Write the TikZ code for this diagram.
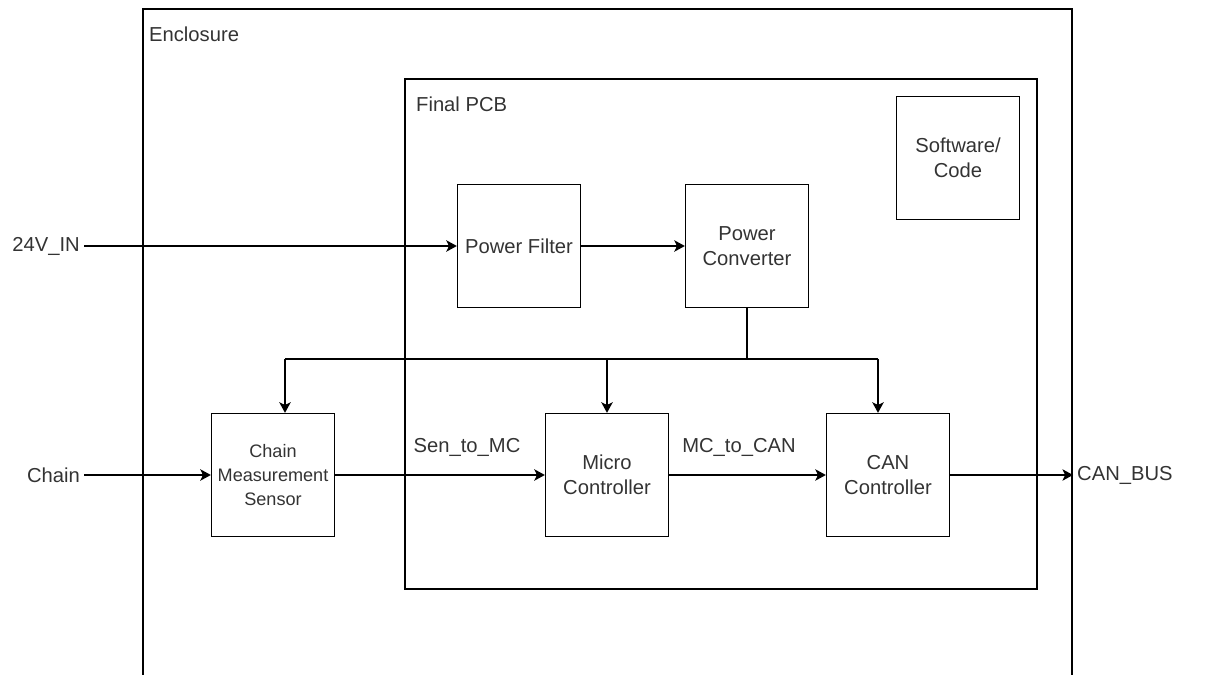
\documentclass[tikz,border=0pt]{standalone}
\usepackage{fontspec}
\setmainfont{Liberation Sans}
\usepackage{tikz}
\usetikzlibrary{arrows.meta, positioning, calc}
\definecolor{inkgray}{RGB}{51,51,51}

\begin{document}
\begin{tikzpicture}[x=0.02cm, y=-0.02cm, line width=0.75pt,
  >={Stealth[length=6pt, width=6.5pt, inset=1.5pt]},
  block/.style={draw, text=inkgray, align=center, minimum width=2.46cm, minimum height=2.46cm, inner sep=1pt, font=\fontsize{11.5}{14.5}\selectfont},
  small block/.style={block, font=\fontsize{10.3}{13.5}\selectfont},
  label/.style={text=inkgray, font=\fontsize{11.5}{14}\selectfont, inner sep=2pt}]
  \useasboundingbox (0,0) rectangle (1217,675);
  % enclosure, open at the bottom
  \draw (143,675) -- (143,9) -- (1072,9) -- (1072,675);
  \node[label, anchor=west] (encl) at (145,34) {Enclosure};
  % final pcb
  \draw (405,79) rectangle (1037,589);
  \node[label, anchor=west] (pcb) at (412,104) {Final PCB};
  \node[block] (sw) at (958,158) {Software/\\Code};
  \node[block] (pf) at (519,246) {Power Filter};
  \node[block] (pc) at (747,246) {Power\\Converter};
  \node[small block] (cms) at (273,475) {Chain\\Measurement\\Sensor};
  \node[block] (mc) at (607,475) {Micro\\Controller};
  \node[block] (can) at (888,475) {CAN\\Controller};
  % outside signals
  \node[label, anchor=east] (vin) at (84,246) {24V\_IN};
  \node[label, anchor=east] (chain) at (84,475) {Chain};
  \node[label, anchor=west] (bus) at (1073,475) {CAN\_BUS};
  \draw[->] (vin) -- (pf);
  \draw[->] (pf) -- (pc);
  \draw[->] (chain) -- (cms);
  \draw[->] (cms) -- (mc);
  \draw[->] (mc) -- (can);
  \draw[->] (can) -- (bus);
  \node[label] (sen) at (467,447) {Sen\_to\_MC};
  \node[label] (mccan) at (739,447) {MC\_to\_CAN};
  % power rail
  \coordinate (busL) at (285,359);
  \coordinate (busR) at (878,359);
  \draw (pc.south) -- (pc.south |- busL);
  \draw (busL) -- (busR);
  \draw[->] (busL) -- (busL |- cms.north);
  \draw[->] (mc.north |- busL) -- (mc.north);
  \draw[->] (busR) -- (busR |- can.north);
\end{tikzpicture}
\end{document}
